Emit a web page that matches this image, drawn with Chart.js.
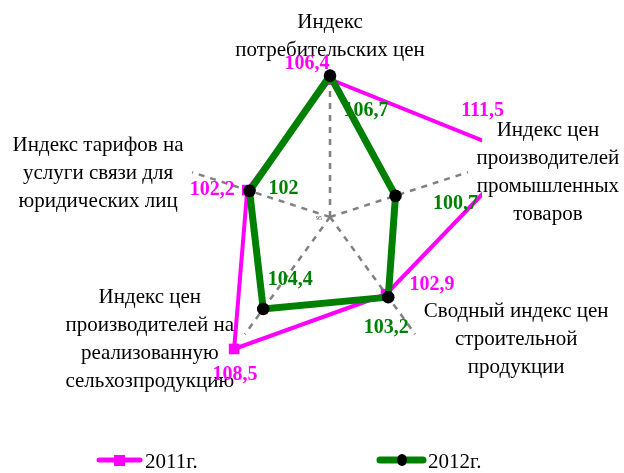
<!DOCTYPE html>
<html>
<head>
<meta charset="utf-8">
<script src="https://cdn.jsdelivr.net/npm/chart.js@4/dist/chart.umd.min.js"></script>
<style>
    html, body { margin: 0; padding: 0; background: #fff; }
    #wrap { width: 624px; height: 473px; }
</style>
</head>
<body>
<div id="wrap"><canvas id="radarChart" width="624" height="473"></canvas></div>
<script>
const categories = [
    ['Индекс', 'потребительских цен'],
    ['Индекс цен', 'производителей', 'промышленных', 'товаров'],
    ['Сводный индекс цен', 'строительной', 'продукции'],
    ['Индекс цен', 'производителей на', 'реализованную', 'сельхозпродукцию'],
    ['Индекс тарифов на', 'услуги связи для', 'юридических лиц']
]
const values2011 = [106.4, 111.5, 102.9, 108.5, 102.2]
const values2012 = [106.7, 100.7, 103.2, 104.4, 102]
const seriesNames = ['2011г.', '2012г.']
const scaleMin = 95
const scaleMax = 107

const serif = '"Liberation Serif", "Times New Roman", serif'
const magenta = '#FF00FF'
const green = '#008000'

// where each axis title sits, relative to the end of its axis line
const axisLabelOffsets = [[0, -36], [80, 0], [101, 5], [-95, 5], [-94, 1]]
// value label offsets from each point
const labelOffsets = [
    [[-23, -15], [-37, -45], [46, -9], [1, 26], [-35, 0]],
    [[36, 35], [60, 8], [-2, 31], [27, -29], [34, -2]]
]

function formatValue(v) {
    return String(v).replace('.', ',')
}

const labelsPlugin = {
    id: 'radarTexts',
    afterDatasetsDraw(chart) {
        const ctx = chart.ctx
        const scale = chart.scales.r
        ctx.save()
        ctx.textAlign = 'center'
        ctx.textBaseline = 'middle'

        // axis titles
        ctx.font = '21px ' + serif
        ctx.fillStyle = '#000'
        categories.forEach((lines, i) => {
            const p = scale.getPointPosition(i, scale.drawingArea)
            const cx = p.x + axisLabelOffsets[i][0]
            const cy = p.y + axisLabelOffsets[i][1]
            const lh = 28
            const top = cy - (lines.length - 1) * lh / 2
            lines.forEach((line, k) => ctx.fillText(line, cx, top + k * lh))
        })

        // centre tick
        ctx.font = '6px ' + serif
        ctx.fillStyle = '#404040'
        ctx.fillText(String(scaleMin), scale.xCenter - 11, scale.yCenter + 1)

        // value labels
        ctx.font = 'bold 20px ' + serif
        chart.data.datasets.forEach((ds, d) => {
            const meta = chart.getDatasetMeta(d)
            ctx.fillStyle = ds.labelColor
            meta.data.forEach((pt, i) => {
                const off = labelOffsets[d][i]
                ctx.fillText(formatValue(ds.data[i]), pt.x + off[0], pt.y + off[1])
            })
        })
        ctx.restore()
    },
    afterDraw(chart) {
        const ctx = chart.ctx
        ctx.save()
        const y = 460
        // 2011
        ctx.strokeStyle = magenta
        ctx.lineWidth = 5
        ctx.lineCap = 'round'
        ctx.beginPath()
        ctx.moveTo(99, y)
        ctx.lineTo(140, y)
        ctx.stroke()
        ctx.fillStyle = magenta
        ctx.fillRect(114, y - 5, 11, 11)
        // 2012
        ctx.strokeStyle = green
        ctx.lineWidth = 7
        ctx.beginPath()
        ctx.moveTo(380, y)
        ctx.lineTo(423, y)
        ctx.stroke()
        ctx.fillStyle = '#000'
        ctx.beginPath()
        ctx.ellipse(402, y, 5, 6, 0, 0, Math.PI * 2)
        ctx.fill()

        ctx.font = '21px ' + serif
        ctx.textBaseline = 'middle'
        ctx.textAlign = 'left'
        ctx.fillText(seriesNames[0], 145, y + 2)
        ctx.fillText(seriesNames[1], 428, y + 2)
        ctx.restore()
    }
}

new Chart(document.getElementById('radarChart'), {
    type: 'radar',
    data: {
        labels: categories,
        datasets: [
            {
                label: seriesNames[0],
                data: values2011,
                labelColor: magenta,
                borderColor: magenta,
                borderWidth: 4,
                fill: false,
                pointStyle: 'rect',
                pointRadius: 7.5,
                pointHoverRadius: 7.5,
                pointBackgroundColor: magenta,
                pointBorderColor: magenta,
                pointBorderWidth: 0,
                order: 1,
                clip: { left: false, top: false, right: 7, bottom: false }
            },
            {
                label: seriesNames[1],
                data: values2012,
                labelColor: green,
                borderColor: green,
                borderWidth: 7,
                fill: false,
                pointStyle: 'circle',
                pointRadius: 6.3,
                pointHoverRadius: 6.3,
                pointBackgroundColor: '#000',
                pointBorderColor: '#000',
                pointBorderWidth: 0,
                order: 0,
                clip: false
            }
        ]
    },
    options: {
        responsive: false,
        animation: false,
        events: [],
        layout: {
            padding: { left: 185, right: 149, top: 72, bottom: 111 }
        },
        elements: { line: { tension: 0 } },
        scales: {
            r: {
                min: scaleMin,
                max: scaleMax,
                grid: { display: false },
                angleLines: {
                    display: true,
                    color: '#808080',
                    lineWidth: 2.5,
                    borderDash: [6, 6]
                },
                ticks: { display: false },
                pointLabels: { display: false }
            }
        },
        plugins: {
            legend: { display: false },
            tooltip: { enabled: false }
        }
    },
    plugins: [labelsPlugin]
})
</script>
</body>
</html>
